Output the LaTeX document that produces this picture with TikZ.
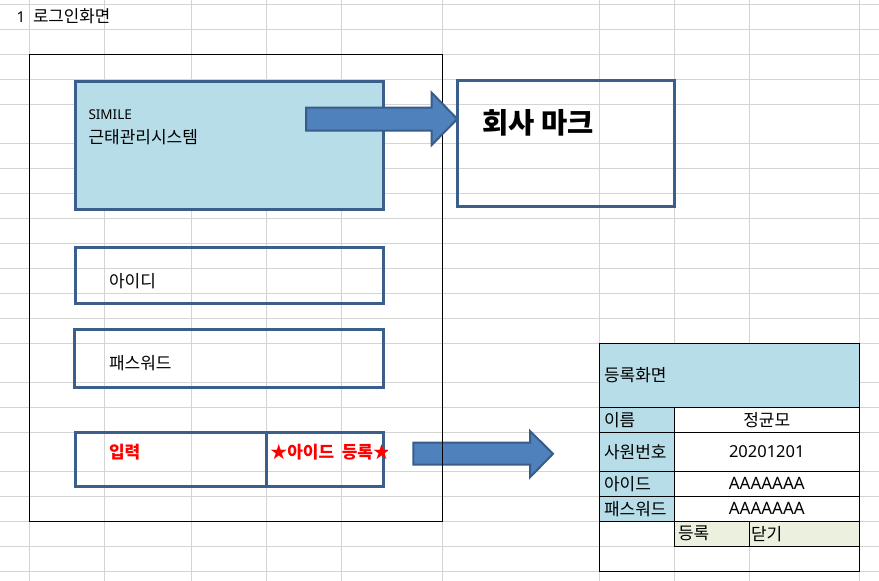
\documentclass[tikz,border=0pt]{standalone}
\usepackage{fontspec}
\setmainfont{Noto Sans CJK KR}
\newfontfamily\latinfont{Noto Sans}
\definecolor{gridc}{RGB}{212,212,212}
\definecolor{boxblue}{RGB}{58,95,139}
\definecolor{lightblue}{RGB}{183,221,232}
\definecolor{arrowfill}{RGB}{79,129,189}
\definecolor{arrowline}{RGB}{56,93,138}
\definecolor{beige}{RGB}{235,241,222}
\definecolor{redtxt}{RGB}{255,0,0}
\begin{document}
\begin{tikzpicture}[x=1pt,y=-1pt,
  gridline/.style={draw=gridc,line width=1pt},
  bluebox/.style={draw=boxblue,line width=3pt,inner sep=0pt,outer sep=0pt,anchor=north west},
  blockarrow/.style={fill=arrowfill,draw=arrowline,line width=2pt,line join=miter},
  txt/.style={inner sep=0pt,outer sep=0pt,anchor=west,font=\fontsize{17}{20}\selectfont},
  ctxt/.style={txt,anchor=center},
  lat/.style={inner sep=0pt,outer sep=0pt,anchor=center,font=\latinfont\fontsize{16.5}{19}\selectfont},
  redb/.style={txt,text=redtxt,font=\fontsize{17}{20}\selectfont\bfseries},
  tline/.style={draw=black,line width=1pt}
]
\useasboundingbox (0,0) rectangle (879,581);
\fill[white] (0,0) rectangle (879,581);
% spreadsheet grid
\foreach \gy in {4.5,29.5,54.5,79.5,104.5,143.5,168.5,193.5,218.5,243.5,268.5,293.5,318.5,343.5,382.5,407.5,432.5,471.5,496.5,521.5,546.5,571.5}
  \draw[gridline] (0,\gy) -- (879,\gy);
\foreach \gx in {29.5,104.5,191.7,266.7,341.7,442.3,599.3,674.3,749.3,859.3}
  \draw[gridline] (\gx,0) -- (\gx,581);

% heading
\node[inner sep=0pt,anchor=west,font=\latinfont\fontsize{15}{18}\selectfont] (rownum) at (16.3,16.7) {1};
\node[txt,font=\fontsize{16.8}{19}\selectfont] (heading) at (33,16.7) {로그인화면};

% arrow to the registration table (below the frame line)
\draw[blockarrow] (413.3,442.7) -- (530,442.7) -- (530,431) -- (553,453.8) -- (530,477.3) -- (530,464.5) -- (413.3,464.5) -- cycle;

% login frame
\draw[black,line width=1pt] (29.5,54.3) rectangle (442.3,521.3);

% title box
\node[bluebox,fill=lightblue,minimum width=308.3pt,minimum height=128.3pt] (logo) at (75,81) {};
\node[inner sep=0pt,anchor=west,font=\latinfont\fontsize{13.5}{16}\selectfont] (simile) at (88.3,115) {SIMILE};
\node[txt] (system) at (88.5,137.5) {근태관리시스템};

% company mark box
\node[bluebox,minimum width=216.8pt,minimum height=126.2pt] (mark) at (457.7,80) {};
\node[txt,font=\fontsize{28.5}{32}\selectfont\bfseries] (marktxt) at (482,123.3) {회사\hspace{7pt}마크};

% arrow to the company mark (above the frame line)
\draw[blockarrow] (306,107.7) -- (431.7,107.7) -- (431.7,92.7) -- (457.3,119) -- (431.7,145) -- (431.7,130.7) -- (306,130.7) -- cycle;

% id / password boxes
\node[bluebox,minimum width=308.3pt,minimum height=56.6pt] (idbox) at (75,247.2) {};
\node[txt] (idtxt) at (109,281.3) {아이디};
\node[bluebox,minimum width=309pt,minimum height=58.5pt] (pwbox) at (74.3,329.3) {};
\node[txt] (pwtxt) at (109,363) {패스워드};

% input / register buttons
\node[bluebox,minimum width=191.3pt,minimum height=54pt] (inbox) at (75,432) {};
\node[bluebox,minimum width=117pt,minimum height=54pt] (regbox) at (266.3,432) {};
\node[redb] (intxt) at (109,451.7) {입력};
\begin{scope}
  \clip (266,425) rectangle (387,490);
  \node[redb] (regtxt) at (270.3,451.7) {★아이드\hspace{0.45em}등록★};
\end{scope}

% registration table
\fill[lightblue] (599.3,343.3) rectangle (859.3,407.3);
\fill[lightblue] (599.3,407.3) rectangle (674.3,521.3);
\fill[white] (674.3,407.3) rectangle (859.3,521.3);
\fill[beige] (674.3,521.3) rectangle (859.3,546.3);
\draw[tline] (599.3,343.3) rectangle (859.3,571);
\foreach \ty in {407.3,432.3,471.3,496.3,521.3}
  \draw[tline] (599.3,\ty) -- (859.3,\ty);
\draw[tline] (674.3,407.3) -- (674.3,546.3);
\draw[tline] (674.3,546.3) -- (859.3,546.3);
\draw[tline] (749.3,521.3) -- (749.3,546.3);

\node[txt] (regtitle) at (604,375) {등록화면};
\node[txt] (lname) at (604,420) {이름};
\node[txt] (lnum) at (604,452) {사원번호};
\node[txt] (lid) at (604,483.8) {아이드};
\node[txt] (lpw) at (604,508.8) {패스워드};
\node[ctxt] (vname) at (766.8,420) {정균모};
\node[lat] (vnum) at (766.8,452) {20201201};
\node[lat,font=\latinfont\fontsize{17}{19}\selectfont] (vid) at (766.8,483.8) {AAAAAAA};
\node[lat,font=\latinfont\fontsize{17}{19}\selectfont] (vpw) at (766.8,508.8) {AAAAAAA};
\node[txt] (bok) at (678,533.8) {등록};
\node[txt] (bclose) at (751,533.8) {닫기};
\end{tikzpicture}
\end{document}
